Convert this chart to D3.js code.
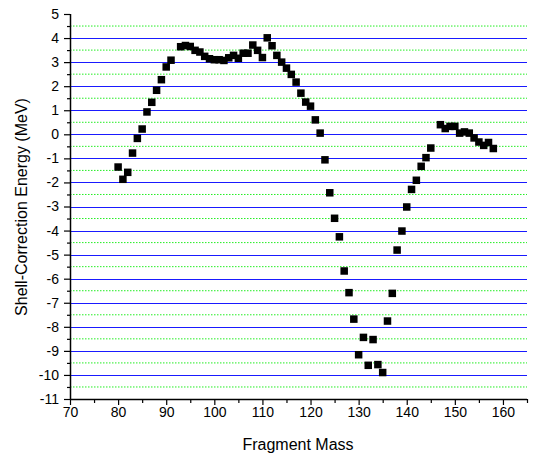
<!DOCTYPE html>
<html><head><meta charset="utf-8">
<script src="https://cdn.jsdelivr.net/npm/d3@7/dist/d3.min.js"></script>
<style>body{margin:0;background:#fff}svg{display:block}text{font-family:"Liberation Sans",Arial,sans-serif}</style>
</head><body><svg id="c" width="533" height="454"></svg>
<script>
const masses = [80,81,82,83,84,85,86,87,88,89,90,91,93,94,95,96,97,98,99,100,101,102,103,104,105,106,107,108,109,110,111,112,113,114,115,116,117,118,119,120,121,122,123,124,125,126,127,128,129,130,131,132,133,134,135,136,137,138,139,140,141,142,143,144,145,147,148,149,150,151,152,153,154,155,156,157,158];
const energies = [-1.36,-1.87,-1.58,-0.78,-0.17,0.22,0.93,1.33,1.83,2.27,2.8,3.08,3.64,3.69,3.65,3.49,3.42,3.24,3.14,3.1,3.1,3.07,3.18,3.28,3.16,3.37,3.37,3.71,3.49,3.19,4.01,3.68,3.28,3.0,2.75,2.49,2.17,1.71,1.34,1.17,0.6,0.05,-1.06,-2.43,-3.49,-4.26,-5.68,-6.58,-7.68,-9.16,-8.44,-9.6,-8.53,-9.57,-9.9,-7.76,-6.61,-4.81,-4.02,-3.02,-2.29,-1.91,-1.33,-0.97,-0.57,0.4,0.24,0.33,0.33,0.05,0.1,0.05,-0.15,-0.32,-0.46,-0.34,-0.59];
const xTicks = [70,80,90,100,110,120,130,140,150,160];
const yTicks = [5,4,3,2,1,0,-1,-2,-3,-4,-5,-6,-7,-8,-9,-10,-11];
const xLabel = "Fragment Mass";
const yLabel = "Shell-Correction Energy (MeV)";

const svg = d3.select("#c");
const x = d3.scaleLinear().domain([70,165]).range([70,527]);
const y = d3.scaleLinear().domain([-11,5]).range([399,14]);

// grid
const g = svg.append("g");
const halfVals = d3.range(-10.5, 5, 1);
g.selectAll("line.h").data(halfVals).join("line")
  .attr("x1", x(70)).attr("x2", x(165)).attr("y1", d=>y(d)).attr("y2", d=>y(d))
  .attr("stroke","#22ee22").attr("stroke-width",1).attr("stroke-dasharray","1.5,1.5");
const intVals = d3.range(-10, 5, 1);
g.selectAll("line.i").data(intVals).join("line")
  .attr("x1", x(70)).attr("x2", x(165)).attr("y1", d=>Math.round(y(d))+0.5).attr("y2", d=>Math.round(y(d))+0.5)
  .attr("stroke","#1a1aff").attr("stroke-width",1.2);

// axes
const xAxis = svg.append("g").attr("transform","translate(0,399)");
xAxis.call(d3.axisBottom(x).tickValues(d3.range(70,166,5)).tickSize(4).tickFormat(d=> xTicks.includes(d)? d : ""));
const yAxis = svg.append("g").attr("transform","translate(70,0)");
yAxis.call(d3.axisLeft(y).tickValues(d3.range(-11,5.01,0.5)).tickSize(3).tickFormat(d=> yTicks.includes(d)? d : ""));
yAxis.selectAll(".tick").filter(d=>yTicks.includes(d)).select("line").attr("x2",-6);
xAxis.selectAll(".tick").filter(d=>xTicks.includes(d)).select("line").attr("y2",6);
[xAxis,yAxis].forEach(a=>{
  a.select(".domain").attr("stroke","#000").attr("stroke-width",1.5);
  a.selectAll(".tick line").attr("stroke","#000").attr("stroke-width",1.2);
  a.selectAll("text").attr("font-size",14).attr("fill","#000").attr("font-family","Liberation Sans, Arial, sans-serif");
});
yAxis.select(".domain").attr("d","M0.5,14V399");
xAxis.select(".domain").attr("d","M70,0.5H527");
xAxis.selectAll("text").attr("y",8).attr("dy","0.71em");
yAxis.selectAll("text").attr("x",-11);

// labels
svg.append("text").attr("x",298).attr("y",450).attr("text-anchor","middle").attr("font-size",16).text(xLabel);
svg.append("text").attr("transform","translate(27,207) rotate(-90)").attr("text-anchor","middle").attr("font-size",16).text(yLabel);

// points
const data = masses.map((m,i)=>({m, e:energies[i]}));
const s = 7.5;
svg.append("g").selectAll("rect").data(data).join("rect")
  .attr("x", d=>x(d.m)-s/2).attr("y", d=>y(d.e)-s/2).attr("width",s).attr("height",s).attr("fill","#000");
</script></body></html>
